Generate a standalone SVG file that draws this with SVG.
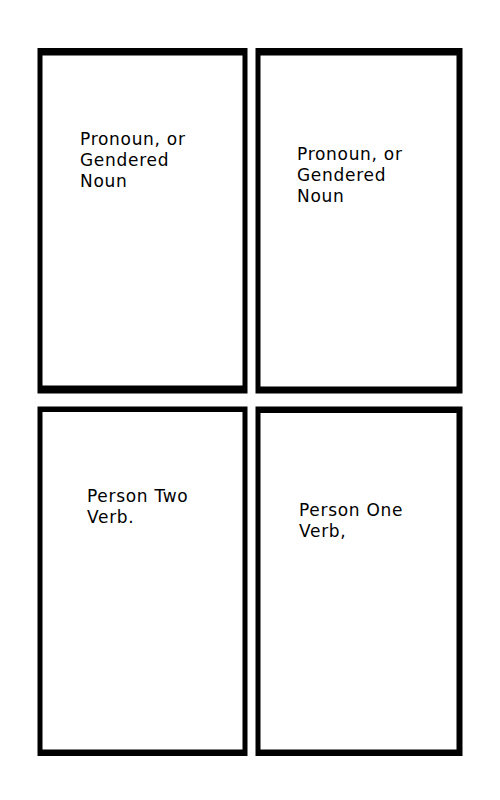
<svg xmlns="http://www.w3.org/2000/svg" width="500" height="800" viewBox="0 0 500 800">
<style>
.frame{fill:#000;fill-rule:evenodd}
.t{font-family:"DejaVu Sans",sans-serif;font-size:17px;letter-spacing:0.7px;fill:#000}
</style>
<rect width="500" height="800" fill="#fff"/>
<g id="panel1">
<path class="frame" d="M37.5,48H247.5V393.5H37.5Z M42.5,55.5V385.5H242.5V55.5Z"/>
<text class="t" x="80" y="145">Pronoun, or</text>
<text class="t" x="80" y="166">Gendered</text>
<text class="t" x="80" y="187">Noun</text>
</g>
<g id="panel2">
<path class="frame" d="M255.5,48H462.5V393.5H255.5Z M260.5,55.5V386.5H456.5V55.5Z"/>
<text class="t" x="297" y="160">Pronoun, or</text>
<text class="t" x="297" y="181">Gendered</text>
<text class="t" x="297" y="202">Noun</text>
</g>
<g id="panel3">
<path class="frame" d="M37.5,406.5H247.5V756H37.5Z M42.5,412V749.5H242.5V412Z"/>
<text class="t" x="87" y="502">Person Two</text>
<text class="t" x="87" y="523">Verb.</text>
</g>
<g id="panel4">
<path class="frame" d="M255.5,406.5H462.5V756H255.5Z M260.5,413V749.5H456.5V413Z"/>
<text class="t" x="299" y="516">Person One</text>
<text class="t" x="299" y="537">Verb,</text>
</g>
<g id="connectors"/>
</svg>
